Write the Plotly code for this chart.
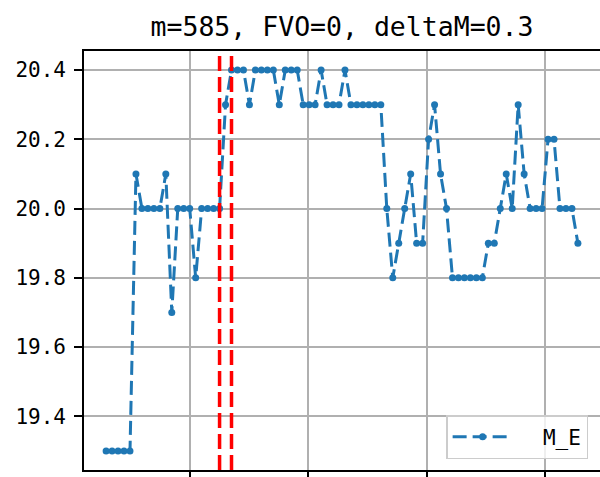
import plotly.graph_objects as go

# ---- data ----
x_index = list(range(80))
m_e = [19.3, 19.3, 19.3, 19.3, 19.3, 20.1, 20.0, 20.0, 20.0, 20.0,
       20.1, 19.7, 20.0, 20.0, 20.0, 19.8, 20.0, 20.0, 20.0, 20.0,
       20.3, 20.4, 20.4, 20.4, 20.3, 20.4, 20.4, 20.4, 20.4, 20.3,
       20.4, 20.4, 20.4, 20.3, 20.3, 20.3, 20.4, 20.3, 20.3, 20.3,
       20.4, 20.3, 20.3, 20.3, 20.3, 20.3, 20.3, 20.0, 19.8, 19.9,
       20.0, 20.1, 19.9, 19.9, 20.2, 20.3, 20.1, 20.0, 19.8, 19.8,
       19.8, 19.8, 19.8, 19.8, 19.9, 19.9, 20.0, 20.1, 20.0, 20.3,
       20.1, 20.0, 20.0, 20.0, 20.2, 20.2, 20.0, 20.0, 20.0, 19.9]
event_x = [19, 21]
y_ticks = [19.4, 19.6, 19.8, 20.0, 20.2, 20.4]
y_tick_labels = ["19.4", "19.6", "19.8", "20.0", "20.2", "20.4"]
title_text = "m=585, FVO=0, deltaM=0.3"
series_name = "M_E"

FONT = "DejaVu Sans Mono"
BLUE = "#1f77b4"

fig = go.Figure()
fig.add_trace(go.Scatter(
    x=x_index, y=m_e, name="\u00a0\u00a0" + series_name, mode="lines+markers",
    line=dict(color=BLUE, width=3, dash="14px,6px"),
    marker=dict(color=BLUE, size=7, symbol="circle"),
))

for ex in event_x:
    fig.add_shape(type="line", x0=ex, x1=ex, y0=0, y1=1, xref="x", yref="paper",
                  line=dict(color="red", width=3.5, dash="15px,6px"), layer="above")

fig.update_layout(
    width=600, height=477,
    margin=dict(l=84, r=0, t=51, b=7),
    paper_bgcolor="white", plot_bgcolor="white",
    font=dict(family=FONT, color="black"),
    title=dict(text=title_text, x=(84 + 600) / 2 / 600, xanchor="center",
               y=1 - 36 / 477, yanchor="bottom", yref="container",
               font=dict(family=FONT, size=26.5, color="black")),
    showlegend=True,
    legend=dict(x=0.977, y=0.026, xanchor="right", yanchor="bottom",
                bgcolor="rgba(255,255,255,0.8)", bordercolor="#cccccc", borderwidth=1.5,
                font=dict(family=FONT, size=21, color="black"), itemwidth=60,
                tracegroupgap=0),
)

fig.update_xaxes(
    range=[-3.7, 82.7], showgrid=True, gridcolor="#b0b0b0", gridwidth=1.6,
    tick0=14.07, dtick=19.8, ticks="outside", ticklen=8, tickwidth=1.5, tickcolor="black",
    showticklabels=False, showline=True, linecolor="black", linewidth=1.6, mirror=True,
    zeroline=False, automargin=False,
)
fig.update_yaxes(
    range=[19.245, 20.455], showgrid=True, gridcolor="#b0b0b0", gridwidth=1.6,
    tickvals=y_ticks, ticktext=y_tick_labels, ticks="outside", ticklen=8, tickwidth=1.5,
    tickcolor="black", tickfont=dict(family=FONT, size=21, color="black"),
    showline=True, linecolor="black", linewidth=1.6, mirror=True,
    zeroline=False, automargin=False, ticklabelstandoff=4,
)

fig.write_html("out.html", config={"displayModeBar": False},
               post_script="document.body.style.margin='0';")
